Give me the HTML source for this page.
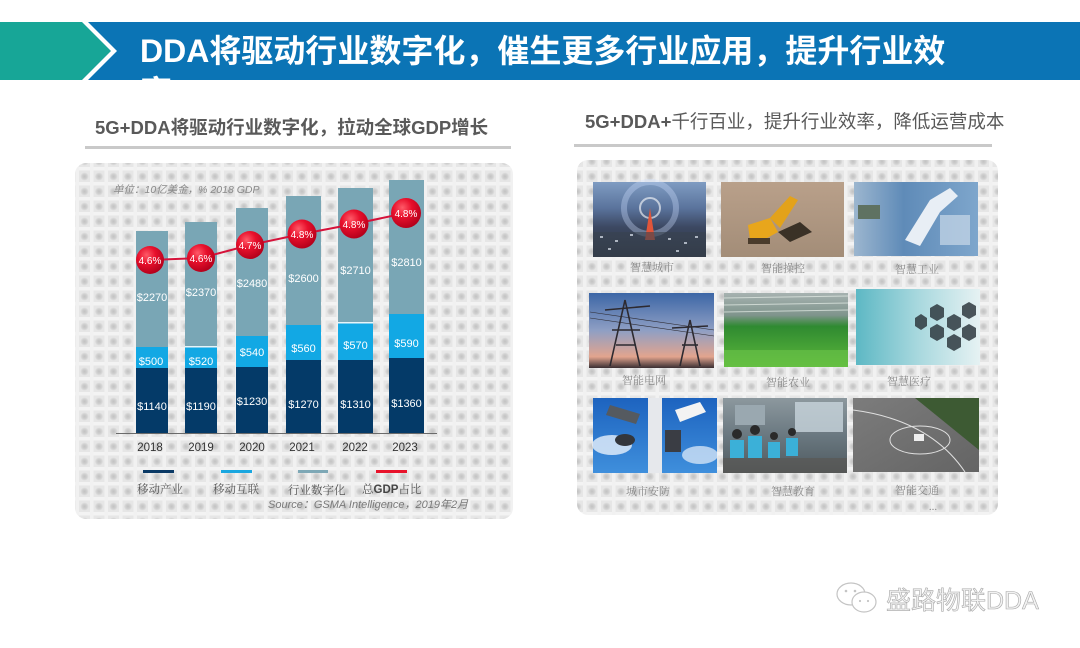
<!DOCTYPE html>
<html><head><meta charset="utf-8"><style>
html,body{margin:0;padding:0;background:#fff;width:1080px;height:648px;overflow:hidden}
svg{display:block}
.cjk{font-family:"Liberation Sans","Noto Sans CJK SC",sans-serif}
.ser{font-family:"Liberation Serif","Noto Serif CJK SC",serif}
</style></head><body>
<svg width="1080" height="648" viewBox="0 0 1080 648" xmlns="http://www.w3.org/2000/svg">
<defs>
  <pattern id="dots" x="3" y="2" width="14.5" height="15" patternUnits="userSpaceOnUse">
    <rect width="14.5" height="15" fill="#e6e6e6"/>
    <rect x="0" y="0" width="14.5" height="3.5" fill="#f3f3f3"/>
    <rect x="0" y="0" width="3.5" height="15" fill="#f1f1f1"/>
    <circle cx="9" cy="9.5" r="4" fill="url(#dotg)"/>
  </pattern>
  <radialGradient id="dotg"><stop offset="0" stop-color="#c2c2c2"/><stop offset="0.6" stop-color="#d0d0d0"/><stop offset="1" stop-color="#e2e2e2"/></radialGradient>
  <radialGradient id="bub" cx="0.38" cy="0.32" r="0.7">
    <stop offset="0" stop-color="#ff5a68"/><stop offset="0.45" stop-color="#e8102c"/><stop offset="1" stop-color="#b3001b"/>
  </radialGradient>
  <clipPath id="band"><rect x="0" y="22" width="1080" height="58"/></clipPath>
  <linearGradient id="g1" x1="0" y1="0" x2="0" y2="1"><stop offset="0" stop-color="#7f9cc2"/><stop offset="0.35" stop-color="#5a739c"/><stop offset="0.6" stop-color="#3c4862"/><stop offset="1" stop-color="#2d3442"/></linearGradient>
  <linearGradient id="g2" x1="0" y1="0" x2="0" y2="1"><stop offset="0" stop-color="#b9a08a"/><stop offset="1" stop-color="#a38d78"/></linearGradient>
  <linearGradient id="g3" x1="0" y1="0" x2="1" y2="0"><stop offset="0" stop-color="#9cb6cf"/><stop offset="0.4" stop-color="#5f8bb8"/><stop offset="1" stop-color="#7ea6cc"/></linearGradient>
  <linearGradient id="g4" x1="0" y1="0" x2="0" y2="1"><stop offset="0" stop-color="#3c66a6"/><stop offset="0.5" stop-color="#8f9fc4"/><stop offset="0.85" stop-color="#e2a48e"/><stop offset="1" stop-color="#3a2f33"/></linearGradient>
  <linearGradient id="g5" x1="0" y1="0" x2="0" y2="1"><stop offset="0" stop-color="#a6b2b0"/><stop offset="0.3" stop-color="#7f948c"/><stop offset="0.45" stop-color="#2f8a31"/><stop offset="1" stop-color="#5cb83a"/></linearGradient>
  <linearGradient id="g6" x1="0" y1="0" x2="1" y2="0"><stop offset="0" stop-color="#5db8c4"/><stop offset="0.5" stop-color="#a8d8de"/><stop offset="1" stop-color="#e6f2f3"/></linearGradient>
  <linearGradient id="g7" x1="0" y1="0" x2="0" y2="1"><stop offset="0" stop-color="#1d63bf"/><stop offset="1" stop-color="#3f8fdc"/></linearGradient>
  <linearGradient id="g8" x1="0" y1="0" x2="0" y2="1"><stop offset="0" stop-color="#8c989e"/><stop offset="0.5" stop-color="#6a7880"/><stop offset="1" stop-color="#4f5a60"/></linearGradient>
  <linearGradient id="g9" x1="0" y1="0" x2="1" y2="1"><stop offset="0" stop-color="#7c7c7c"/><stop offset="1" stop-color="#646464"/></linearGradient>
</defs>

<!-- Header band -->
<rect x="80" y="22" width="1000" height="58" fill="#0b74b5"/>
<polygon points="0,22 82,22 111,51 82,80 0,80" fill="#17a697"/>
<polygon points="82,22 88,22 117,51 88,80 82,80 111,51" fill="#ffffff"/>
<g clip-path="url(#band)">
  <text x="140" y="62" class="cjk" font-size="32" font-weight="bold" fill="#ffffff">DDA将驱动行业数字化，催生更多行业应用，提升行业效</text>
  <text x="140" y="103" class="cjk" font-size="32" font-weight="bold" fill="#ffffff">率</text>
</g>

<!-- Subtitles -->
<text x="95" y="134" class="cjk" font-size="18.5" font-weight="bold" fill="#595959">5G+DDA将驱动行业数字化，拉动全球GDP增长</text>
<rect x="85" y="146" width="426" height="3" fill="#c9c9c9"/>
<text x="585" y="128" class="cjk" font-size="18.5" fill="#595959"><tspan font-weight="bold">5G+DDA+</tspan>千行百业，提升行业效率，降低运营成本</text>
<rect x="574" y="144" width="418" height="3" fill="#c9c9c9"/>

<!-- Left panel -->
<rect x="75" y="163" width="438" height="356" rx="11" fill="url(#dots)"/>
<text x="113" y="193" class="cjk" font-size="10.5" font-style="italic" fill="#8a8a8a">单位：10亿美金，% 2018 GDP</text>

<!-- bars: gray, light, dark -->
<g>
  <rect x="136" y="231" width="32" height="116" fill="#79a6b5"/>
  <rect x="136" y="347" width="32" height="21" fill="#12a8e4"/>
  <rect x="136" y="368" width="32" height="65" fill="#043a68"/>

  <rect x="185" y="222" width="32" height="125" fill="#79a6b5"/>
  <rect x="185" y="346" width="32" height="1.5" fill="#e8f4f8"/>
  <rect x="185" y="347.5" width="32" height="20.5" fill="#12a8e4"/>
  <rect x="185" y="368" width="32" height="65" fill="#043a68"/>

  <rect x="236" y="208" width="32" height="128" fill="#79a6b5"/>
  <rect x="236" y="336" width="32" height="31" fill="#12a8e4"/>
  <rect x="236" y="367" width="32" height="66" fill="#043a68"/>

  <rect x="286" y="196" width="35" height="129" fill="#79a6b5"/>
  <rect x="286" y="325" width="35" height="35" fill="#12a8e4"/>
  <rect x="286" y="360" width="35" height="73" fill="#043a68"/>

  <rect x="338" y="188" width="35" height="135" fill="#79a6b5"/>
  <rect x="338" y="322" width="35" height="1.5" fill="#e8f4f8"/>
  <rect x="338" y="323.5" width="35" height="36.5" fill="#12a8e4"/>
  <rect x="338" y="360" width="35" height="73" fill="#043a68"/>

  <rect x="389" y="180" width="35" height="134" fill="#79a6b5"/>
  <rect x="389" y="314" width="35" height="44" fill="#12a8e4"/>
  <rect x="389" y="358" width="35" height="75" fill="#043a68"/>
</g>
<line x1="116" y1="433.5" x2="437" y2="433.5" stroke="#6a6a6a" stroke-width="1"/>

<g font-family="Liberation Sans, sans-serif" font-size="11" fill="#ffffff" text-anchor="middle">
  <text x="152" y="301">$2270</text>
  <text x="201" y="296">$2370</text>
  <text x="252" y="287">$2480</text>
  <text x="303.5" y="282">$2600</text>
  <text x="355.5" y="274">$2710</text>
  <text x="406.5" y="266">$2810</text>
  <text x="151" y="365">$500</text>
  <text x="201" y="365">$520</text>
  <text x="252" y="356">$540</text>
  <text x="303.5" y="352">$560</text>
  <text x="355.5" y="349">$570</text>
  <text x="406.5" y="347">$590</text>
  <text x="152" y="410">$1140</text>
  <text x="201" y="410">$1190</text>
  <text x="252" y="405">$1230</text>
  <text x="303.5" y="408">$1270</text>
  <text x="355.5" y="408">$1310</text>
  <text x="406.5" y="407">$1360</text>
</g>

<!-- GDP line + bubbles -->
<polyline points="150,260 201,258 250,245 302,234 354,224 406,213" fill="none" stroke="#d6123a" stroke-width="2"/>
<g>
  <circle cx="150" cy="260" r="14" fill="url(#bub)"/>
  <circle cx="201" cy="258" r="14" fill="url(#bub)"/>
  <circle cx="250" cy="245" r="14" fill="url(#bub)"/>
  <circle cx="302" cy="234" r="14.5" fill="url(#bub)"/>
  <circle cx="354" cy="224" r="14.5" fill="url(#bub)"/>
  <circle cx="406" cy="213" r="15" fill="url(#bub)"/>
</g>
<g font-family="Liberation Sans, sans-serif" font-size="10" fill="#ffffff" text-anchor="middle">
  <text x="150" y="264">4.6%</text>
  <text x="201" y="262">4.6%</text>
  <text x="250" y="249">4.7%</text>
  <text x="302" y="238">4.8%</text>
  <text x="354" y="228">4.8%</text>
  <text x="406" y="217">4.8%</text>
</g>

<!-- years -->
<g font-family="Liberation Sans, sans-serif" font-size="11.5" fill="#333333" text-anchor="middle">
  <text x="150" y="451">2018</text>
  <text x="201" y="451">2019</text>
  <text x="252" y="451">2020</text>
  <text x="302" y="451">2021</text>
  <text x="355" y="451">2022</text>
  <text x="405" y="451">2023</text>
</g>

<!-- legend -->
<rect x="143" y="470" width="31" height="3" fill="#0b3a66"/>
<rect x="221" y="470" width="31" height="3" fill="#1aa7e0"/>
<rect x="298" y="470" width="30" height="3" fill="#7ea8b6"/>
<rect x="376" y="470" width="31" height="3" fill="#e8132b"/>
<g class="ser" font-size="11.5" fill="#555555">
  <text x="137" y="493">移动产业</text>
  <text x="213" y="493">移动互联</text>
  <text x="288" y="494">行业数字化</text>
  <text x="362" y="493">总<tspan font-family="Liberation Sans, sans-serif" font-weight="bold" fill="#444">GDP</tspan>占比</text>
</g>
<text x="268" y="508" class="cjk" font-size="11" font-style="italic" fill="#7a7a7a">Source：GSMA Intelligence，2019年2月</text>

<!-- Right panel -->
<rect x="577" y="160" width="421" height="355" rx="11" fill="url(#dots)"/>

<!-- img1 smart city -->
<rect x="593" y="182" width="113" height="75" fill="url(#g1)"/>
<circle cx="650" cy="208" r="26" fill="none" stroke="#cfe0ff" stroke-opacity="0.35" stroke-width="6"/>
<circle cx="650" cy="208" r="10" fill="none" stroke="#ffffff" stroke-opacity="0.6" stroke-width="2"/>
<polygon points="650,208 645,240 655,240" fill="#e0553a"/>
<rect x="593" y="232" width="113" height="25" fill="#39424f" opacity="0.6"/>
<g fill="#dfe6f0" opacity="0.7"><rect x="600" y="236" width="3" height="2"/><rect x="615" y="240" width="3" height="2"/><rect x="630" y="234" width="3" height="2"/><rect x="668" y="238" width="3" height="2"/><rect x="684" y="242" width="3" height="2"/><rect x="695" y="236" width="3" height="2"/><rect x="608" y="248" width="3" height="2"/><rect x="676" y="250" width="3" height="2"/></g>

<!-- img2 excavator -->
<rect x="721" y="182" width="123" height="75" fill="url(#g2)"/>
<polygon points="748,225 770,218 778,232 760,242 750,240" fill="#e8a61c"/>
<polygon points="770,218 790,196 798,200 780,228" fill="#e3a21a"/>
<polygon points="778,232 800,222 812,232 790,242" fill="#3a3126"/>
<rect x="748" y="238" width="22" height="6" fill="#4a3c2c"/>

<!-- img3 robot -->
<rect x="854" y="182" width="124" height="74" fill="url(#g3)"/>
<rect x="858" y="205" width="22" height="14" fill="#5f7262"/>
<polygon points="905,240 930,200 950,188 958,196 940,212 920,246" fill="#e8eef5"/>
<rect x="940" y="215" width="30" height="30" fill="#c9d8e8" opacity="0.7"/>

<!-- img4 power -->
<rect x="589" y="293" width="125" height="75" fill="url(#g4)"/>
<g stroke="#2d2a30" stroke-width="1.6" fill="none">
  <polyline points="610,366 625,300 640,366"/><line x1="605" y1="310" x2="650" y2="306"/><line x1="612" y1="330" x2="640" y2="330"/><line x1="616" y1="345" x2="636" y2="345"/>
  <polyline points="680,366 690,320 700,366"/><line x1="672" y1="328" x2="708" y2="326"/><line x1="682" y1="345" x2="698" y2="345"/>
</g>
<g stroke="#2d2a30" stroke-width="0.6"><line x1="590" y1="312" x2="714" y2="330"/><line x1="590" y1="318" x2="714" y2="336"/></g>

<!-- img5 agriculture -->
<rect x="724" y="293" width="124" height="74" fill="url(#g5)"/>
<g stroke="#e6eee8" stroke-width="1" opacity="0.7"><line x1="724" y1="298" x2="848" y2="296"/><line x1="724" y1="305" x2="848" y2="303"/><line x1="724" y1="312" x2="848" y2="310"/></g>
<rect x="724" y="350" width="124" height="17" fill="#6cc44a" opacity="0.6"/>

<!-- img6 medical -->
<rect x="856" y="289" width="124" height="76" fill="url(#g6)"/>
<g fill="#2f3a40" opacity="0.85">
  <polygon points="915,318 921,314 927,318 927,326 921,330 915,326"/>
  <polygon points="930,308 937,304 944,308 944,317 937,321 930,317"/>
  <polygon points="930,328 937,324 944,328 944,337 937,341 930,337"/>
  <polygon points="947,318 954,314 961,318 961,327 954,331 947,327"/>
  <polygon points="947,338 954,334 961,338 961,347 954,351 947,347"/>
  <polygon points="962,306 969,302 976,306 976,315 969,319 962,315"/>
  <polygon points="962,328 969,324 976,328 976,337 969,341 962,337"/>
</g>

<!-- img7 security -->
<rect x="593" y="398" width="124" height="75" fill="url(#g7)"/>
<ellipse cx="612" cy="445" rx="20" ry="10" fill="#e8f1fb" opacity="0.8"/>
<ellipse cx="700" cy="455" rx="18" ry="9" fill="#e8f1fb" opacity="0.7"/>
<rect x="648" y="398" width="14" height="75" fill="#e6e8ec"/>
<polygon points="610,405 640,414 636,424 606,415" fill="#555a60"/>
<polygon points="675,410 700,402 706,412 680,422" fill="#f3f3f3"/>
<rect x="665" y="430" width="16" height="22" fill="#3a3d44"/>
<ellipse cx="625" cy="440" rx="10" ry="6" fill="#33363c"/>

<!-- img8 education -->
<rect x="723" y="398" width="124" height="75" fill="url(#g8)"/>
<rect x="795" y="402" width="48" height="30" fill="#c8d4dc" opacity="0.8"/>
<rect x="735" y="405" width="30" height="20" fill="#9aa8b0"/>
<g fill="#3bb0d8"><rect x="730" y="440" width="14" height="18"/><rect x="748" y="436" width="14" height="22"/><rect x="768" y="442" width="12" height="16"/><rect x="786" y="438" width="12" height="18"/></g>
<g fill="#2a2a2a"><circle cx="737" cy="434" r="5"/><circle cx="755" cy="430" r="5"/><circle cx="774" cy="436" r="4"/><circle cx="792" cy="432" r="4"/></g>
<rect x="723" y="458" width="124" height="15" fill="#5a5550" opacity="0.6"/>

<!-- img9 traffic -->
<rect x="853" y="398" width="126" height="74" fill="url(#g9)"/>
<polygon points="915,398 979,398 979,450" fill="#3d5a33"/>
<ellipse cx="920" cy="440" rx="30" ry="14" fill="none" stroke="#e0e0e0" stroke-width="1"/>
<path d="M853,410 Q930,420 965,472" fill="none" stroke="#e0e0e0" stroke-width="1"/>
<rect x="914" y="434" width="10" height="7" fill="#eeeeee"/>

<!-- right labels -->
<g class="ser" font-size="11" fill="#8a8a8a" text-anchor="middle">
  <text x="652" y="271">智慧城市</text>
  <text x="783" y="272">智能操控</text>
  <text x="917" y="273">智慧工业</text>
  <text x="644" y="384">智能电网</text>
  <text x="788" y="386">智能农业</text>
  <text x="909" y="385">智慧医疗</text>
  <text x="648" y="495">城市安防</text>
  <text x="793" y="495">智慧教育</text>
  <text x="917" y="494">智能交通</text>
  <text x="933" y="510">...</text>
</g>

<!-- watermark -->
<g fill="none" stroke="#c4c4c4" stroke-width="1.2">
  <ellipse cx="851" cy="594" rx="14" ry="11"/>
  <ellipse cx="864" cy="602" rx="12" ry="10" fill="#ffffff"/>
</g>
<g fill="#c4c4c4"><circle cx="846" cy="591" r="1.3"/><circle cx="855" cy="591" r="1.3"/><circle cx="860" cy="601" r="1.1"/><circle cx="868" cy="601" r="1.1"/></g>
<text x="886" y="609" class="cjk" font-size="25" fill="#f2f2f2" stroke="#a8a8a8" stroke-width="0.6">盛路物联DDA</text>
</svg>
</body></html>
